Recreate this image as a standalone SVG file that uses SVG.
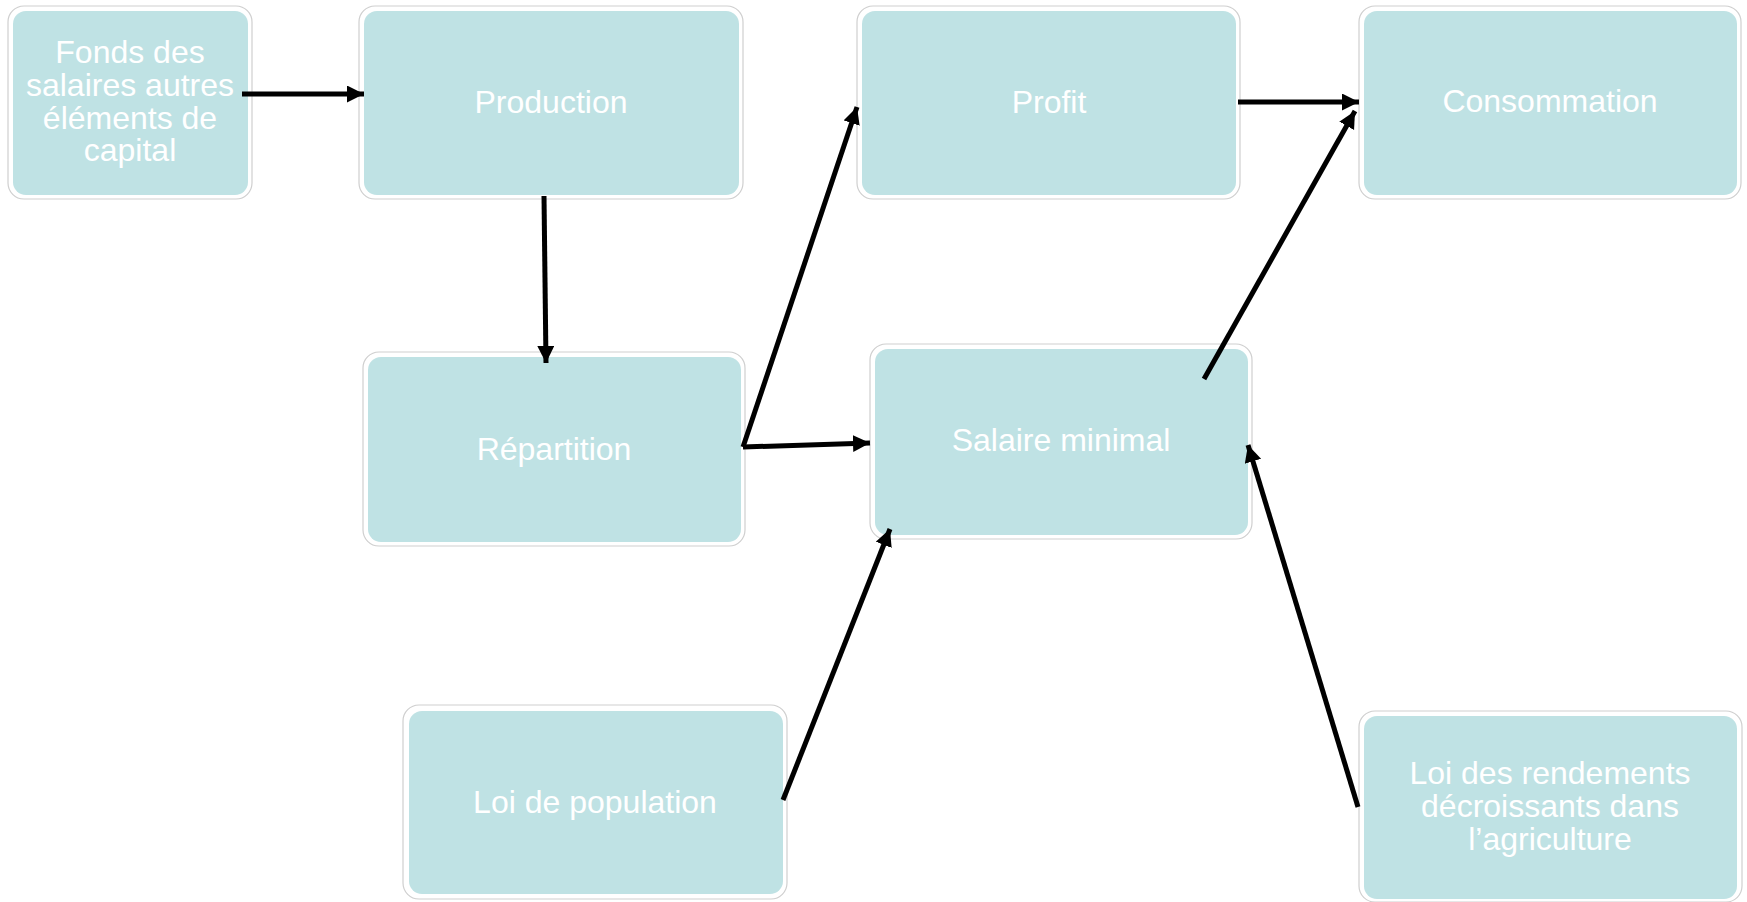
<svg xmlns="http://www.w3.org/2000/svg" width="1747" height="902" viewBox="0 0 1747 902">
<defs>
<style>
.outer{fill:#ffffff;stroke:#cfcfcf;stroke-width:1.2}
.inner{fill:#bfe2e4}
.lbl{font-family:"Liberation Sans",Arial,sans-serif;font-size:32px;fill:#ffffff;text-anchor:middle}
.con{stroke:#000000;stroke-width:5;fill:none;marker-end:url(#ah)}
</style>
<marker id="ah" markerUnits="userSpaceOnUse" markerWidth="18" markerHeight="18" refX="17" refY="8.5" orient="auto" viewBox="0 0 18 18">
<path d="M0,0 L17,8.5 L0,17 z" fill="#000000"/>
</marker>
</defs>
<rect width="1747" height="902" fill="#ffffff"/>
<g id="node-fonds">
<rect class="outer" x="8" y="6" width="244" height="193" rx="16"/>
<rect class="inner" x="13" y="11" width="235" height="184" rx="13"/>
<text class="lbl" x="130" y="63">Fonds des</text>
<text class="lbl" x="130" y="96">salaires autres</text>
<text class="lbl" x="130" y="129">éléments de</text>
<text class="lbl" x="130" y="161">capital</text>
</g>
<g id="node-production">
<rect class="outer" x="359" y="6" width="384" height="193" rx="16"/>
<rect class="inner" x="364" y="11" width="375" height="184" rx="13"/>
<text class="lbl" x="551" y="113">Production</text>
</g>
<g id="node-profit">
<rect class="outer" x="857" y="6" width="383" height="193" rx="16"/>
<rect class="inner" x="862" y="11" width="374" height="184" rx="13"/>
<text class="lbl" x="1049" y="113">Profit</text>
</g>
<g id="node-consommation">
<rect class="outer" x="1359" y="6" width="382" height="193" rx="16"/>
<rect class="inner" x="1364" y="11" width="373" height="184" rx="13"/>
<text class="lbl" x="1550" y="112">Consommation</text>
</g>
<g id="node-repartition">
<rect class="outer" x="363" y="352" width="382" height="194" rx="16"/>
<rect class="inner" x="368" y="357" width="373" height="185" rx="13"/>
<text class="lbl" x="554" y="460">Répartition</text>
</g>
<g id="node-salaire">
<rect class="outer" x="870" y="344" width="382" height="195" rx="16"/>
<rect class="inner" x="875" y="349" width="373" height="186" rx="13"/>
<text class="lbl" x="1061" y="451">Salaire minimal</text>
</g>
<g id="node-population">
<rect class="outer" x="403" y="705" width="384" height="194" rx="16"/>
<rect class="inner" x="409" y="711" width="374" height="183" rx="13"/>
<text class="lbl" x="595" y="813">Loi de population</text>
</g>
<g id="node-rendements">
<rect class="outer" x="1359" y="711" width="383" height="191" rx="16"/>
<rect class="inner" x="1364" y="716" width="373" height="183" rx="13"/>
<text class="lbl" x="1550" y="784">Loi des rendements</text>
<text class="lbl" x="1550" y="817">décroissants dans</text>
<text class="lbl" x="1550" y="850">l’agriculture</text>
</g>
<g id="connectors">
<line class="con" x1="242" y1="94" x2="364" y2="94"/>
<line class="con" x1="544" y1="196" x2="546" y2="363"/>
<line class="con" x1="743" y1="447" x2="857" y2="107"/>
<line class="con" x1="743" y1="447" x2="870" y2="443"/>
<line class="con" x1="1238" y1="102" x2="1359" y2="102"/>
<line class="con" x1="1204" y1="379" x2="1355" y2="111"/>
<line class="con" x1="783" y1="800" x2="890" y2="529"/>
<line class="con" x1="1358" y1="807" x2="1248" y2="445"/>
</g>
</svg>
